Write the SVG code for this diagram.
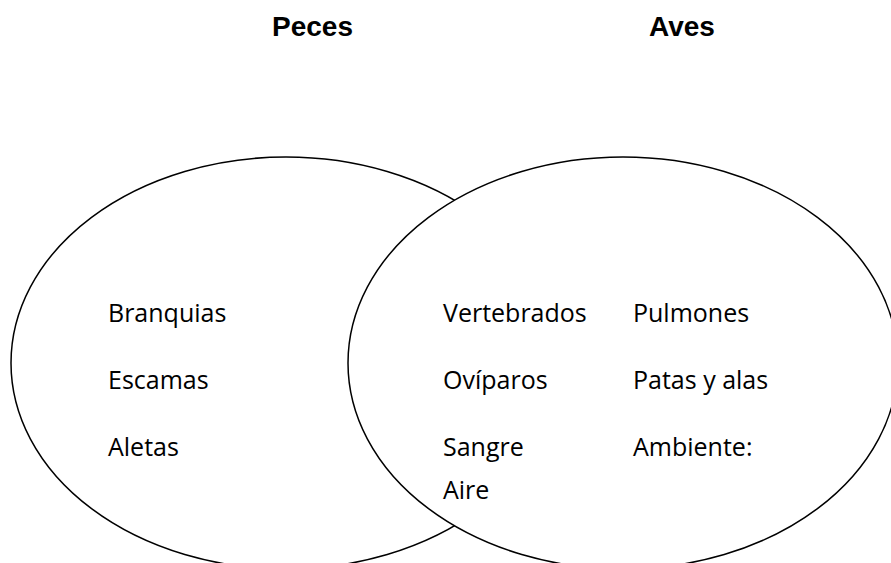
<svg xmlns="http://www.w3.org/2000/svg" width="891" height="563" viewBox="0 0 891 563">
  <style>
    .set { fill: #ffffff; stroke: #000000; stroke-width: 1.5; }
    .title { font-family: "Liberation Sans", Arial, sans-serif; font-weight: bold; font-size: 28px; fill: #000000; }
    .item { font-family: "Open Sans", "Noto Sans", sans-serif; font-size: 25px; fill: #000000; }
  </style>
  <rect x="0" y="0" width="891" height="563" fill="#ffffff"/>
  <g id="titles">
    <text class="title" x="272" y="36">Peces</text>
    <text class="title" x="649" y="36">Aves</text>
  </g>
  <g id="set-peces">
    <ellipse class="set" cx="286" cy="363" rx="275" ry="206"/>
  </g>
  <g id="set-aves">
    <ellipse class="set" cx="623" cy="363" rx="275" ry="206"/>
  </g>
  <g id="labels-peces">
    <text class="item" x="108" y="322">Branquias</text>
    <text class="item" x="108" y="389">Escamas</text>
    <text class="item" x="108" y="456">Aletas</text>
  </g>
  <g id="labels-comunes">
    <text class="item" x="443" y="322">Vertebrados</text>
    <text class="item" x="443" y="389">Ovíparos</text>
    <text class="item" x="443" y="456">Sangre</text>
    <text class="item" x="443" y="499">Aire</text>
  </g>
  <g id="labels-aves">
    <text class="item" x="633" y="322">Pulmones</text>
    <text class="item" x="633" y="389">Patas y alas</text>
    <text class="item" x="633" y="456">Ambiente:</text>
  </g>
  <g id="connectors"></g>
</svg>
